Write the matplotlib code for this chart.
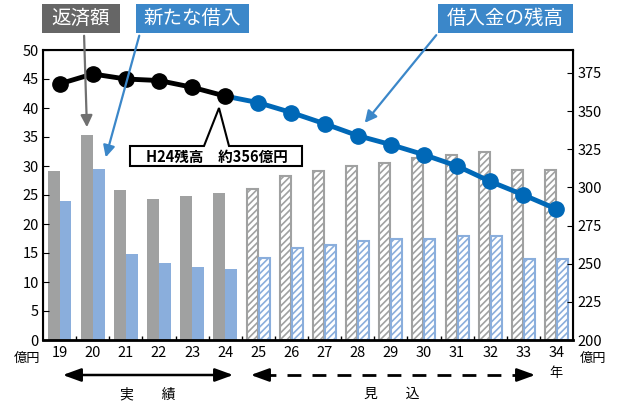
import matplotlib
matplotlib.use("Agg")
import matplotlib.pyplot as plt
import numpy as np
from matplotlib.patches import Polygon, FancyArrowPatch, Rectangle

plt.rcParams["font.family"] = ["Noto Sans CJK JP", "DejaVu Sans"]
plt.rcParams["hatch.linewidth"] = 1.2

# ─────────────────────────────────────────────
# Data
# ─────────────────────────────────────────────
years = ["19", "20", "21", "22", "23", "24", "25", "26",
         "27", "28", "29", "30", "31", "32", "33", "34"]
repayment = [29.1, 35.3, 25.9, 24.3, 24.8, 25.4, 26.0, 28.3,
             29.1, 30.0, 30.6, 31.3, 31.9, 32.5, 29.3, 29.3]
new_loans = [24.0, 29.5, 14.8, 13.3, 12.6, 12.2, 14.1, 15.8,
             16.4, 17.0, 17.4, 17.5, 18.0, 18.0, 13.9, 13.9]
balance = [367.8, 374.3, 371.0, 370.0, 365.6, 359.8, 355.5, 349.0,
           341.7, 333.9, 328.0, 321.4, 314.0, 303.9, 295.1, 285.8]
n_actual = 6  # 19..24 are actual, 25..34 projected

C = {
    "gray_bar": "#a0a1a1",
    "blue_bar": "#8aaedc",
    "line_blue": "#0068b7",
    "box_gray": "#666666",
    "box_blue": "#3b87c9",
}

W, H = 625, 405


def px(x, y):
    """pixel coords (top-left origin) -> figure fraction"""
    return x / W, 1 - y / H


fig = plt.figure(figsize=(W / 100, H / 100), dpi=100)
fig.patch.set_facecolor("white")
ax = fig.add_axes([43 / W, 1 - 340 / H, 530 / W, 290 / H])

x = np.arange(len(years))
bw = 0.36
for i in x:
    if i < n_actual:
        ax.bar(i - bw / 2, repayment[i], bw, color=C["gray_bar"], linewidth=0)
        ax.bar(i + bw / 2, new_loans[i], bw, color=C["blue_bar"], linewidth=0)
    else:
        ax.bar(i - bw / 2, repayment[i], bw * 0.92, facecolor="white",
               edgecolor=C["gray_bar"], hatch="/////", linewidth=1.5)
        ax.bar(i + bw / 2, new_loans[i], bw * 0.92, facecolor="white",
               edgecolor=C["blue_bar"], hatch="/////", linewidth=1.5)

ax.set_xlim(-0.5, len(years) - 0.5)
ax.set_ylim(0, 50)
ax.set_yticks(range(0, 51, 5))
ax.set_xticks(x)
ax.set_xticklabels(years)
ax.set_xticks(np.arange(0.5, len(years) - 0.5), minor=True)
ax.tick_params(axis="x", which="major", length=0, labelsize=10.5, pad=4)
ax.tick_params(axis="x", which="minor", direction="in", length=3, width=1)
ax.tick_params(axis="y", direction="in", length=4, labelsize=10.5, pad=3)
for sp in ax.spines.values():
    sp.set_linewidth(1.5)
ax.spines["bottom"].set_linewidth(2)

ax2 = ax.twinx()
ax2.set_ylim(200, 390)
ax2.set_yticks(range(200, 376, 25))
ax2.tick_params(axis="y", direction="in", length=4, labelsize=10.5, pad=3)
ax2.plot(x[:n_actual], balance[:n_actual], color="black", lw=3.5,
         marker="o", markersize=11, zorder=4)
ax2.plot(x[n_actual - 1:], balance[n_actual - 1:], color=C["line_blue"], lw=3.5,
         zorder=3)
ax2.plot(x[n_actual:], balance[n_actual:], color=C["line_blue"], lw=0,
         marker="o", markersize=11, zorder=3)

# ─────────────────────────────────────────────
# Label boxes + arrows
# ─────────────────────────────────────────────
def label_box(x0, x1, text, color):
    fx0, fy1 = px(x0, 33)
    fx1, fy0 = px(x1, 4)
    fig.patches.append(Rectangle((fx0, fy1), fx1 - fx0, fy0 - fy1,
                                 transform=fig.transFigure, facecolor=color,
                                 edgecolor="none"))
    fig.text(*px((x0 + x1) / 2, 18), text, ha="center", va="center",
             color="white", fontsize=14)


def arrow(p0, p1, color):
    fig.patches.append(FancyArrowPatch(px(*p0), px(*p1), transform=fig.transFigure,
                                       arrowstyle="-|>,head_length=7,head_width=3.5",
                                       color=color, lw=1.6, mutation_scale=1))


label_box(42, 120, "返済額", C["box_gray"])
label_box(136, 249, "新たな借入", C["box_blue"])
label_box(438, 573, "借入金の残高", C["box_blue"])
arrow((84, 33), (87, 130), "#707070")
arrow((140, 33), (105, 160), C["box_blue"])
arrow((438, 33), (363, 125), C["box_blue"])

# callout for H24 balance
callout = [px(130, 146), px(204, 146), px(219, 108), px(229, 146),
           px(302, 146), px(302, 166), px(130, 166)]
fig.patches.append(Polygon(callout, closed=True, transform=fig.transFigure,
                           facecolor="white", edgecolor="black", lw=1.5,
                           zorder=5))
fig.text(*px(217, 156.5), "H24残高　約356億円", ha="center", va="center",
         fontsize=10.5, fontweight="bold", zorder=6)

# ─────────────────────────────────────────────
# Bottom annotations
# ─────────────────────────────────────────────
fig.text(*px(27, 358), "億円", ha="center", va="center", fontsize=9.5)
fig.text(*px(593, 358), "億円", ha="center", va="center", fontsize=9.5)
fig.text(*px(556, 374), "年", ha="center", va="center", fontsize=9.5)

fig.patches.append(FancyArrowPatch(px(60, 375), px(236, 375),
                                   transform=fig.transFigure,
                                   arrowstyle="<|-|>,head_length=11,head_width=4",
                                   color="black", lw=1.8, mutation_scale=1))
fig.lines.append(plt.Line2D([px(262, 375)[0], px(527, 375)[0]],
                            [px(262, 375)[1]] * 2, transform=fig.transFigure,
                            color="black", lw=2, dashes=(5, 4)))
for tip, base in [((248, 375), (262, 375)), ((538, 375), (524, 375))]:
    fig.patches.append(FancyArrowPatch(px(*base), px(*tip), transform=fig.transFigure,
                                       arrowstyle="-|>,head_length=11,head_width=4",
                                       color="black", lw=1.8, mutation_scale=1))

fig.text(*px(148, 394), "実　　績", ha="center", va="center", fontsize=10)
fig.text(*px(392, 394), "見　　込", ha="center", va="center", fontsize=10)

fig.savefig("out.png", dpi=100, facecolor="white")
